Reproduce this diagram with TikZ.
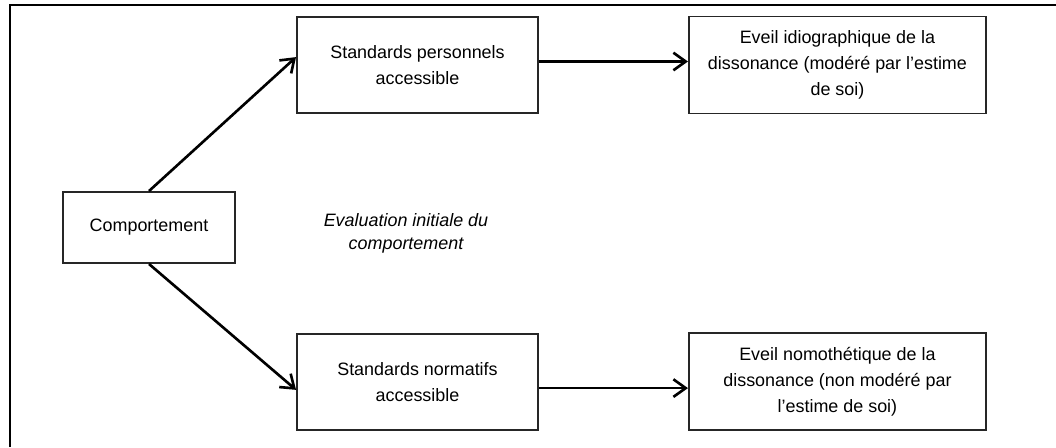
\documentclass[tikz,border=0pt]{standalone}
\usepackage{fontspec}
\setmainfont{Liberation Sans}
\usepackage{tikz}
\usetikzlibrary{arrows.meta, positioning}

\begin{document}
\begin{tikzpicture}[node distance=2.98cm, >={Straight Barb[length=7pt, width=10pt, line width=1.5pt]}]
    % Styles
    \tikzstyle{box} = [rectangle, draw=black!85, line width=1.1pt, align=center, font=\fontsize{10.2}{14.8}\selectfont, inner sep=0pt]
    \tikzstyle{smallbox} = [box, minimum width=4.82cm, minimum height=1.92cm]
    \tikzstyle{widebox} = [box, minimum width=5.94cm, minimum height=1.94cm]
    \tikzstyle{line} = [draw, line width=1.5pt, ->]

    % Frame
    \useasboundingbox (0,0) rectangle (21.12,-8.94);
    \draw[line width=0.9pt] (0.2,-8.94) -- (0.2,-0.1) -- (21.12,-0.1);

    % Nodes
    \node [box, minimum width=3.44cm, minimum height=1.42cm] (comp) at (2.98,-4.55) {Comportement};
    \node [smallbox] (perso) at (8.35,-1.30) {Standards personnels\\accessible};
    \node [widebox, right=of perso] (idio) {Eveil idiographique de la\\dissonance (modéré par l’estime\\de soi)};
    \node [smallbox, below=4.38cm of perso] (norm) {Standards normatifs\\accessible};
    \node [widebox, right=of norm] (nomo) {Eveil nomothétique de la\\dissonance (non modéré par\\l’estime de soi)};
    \node [align=center, font=\fontsize{10.2}{13}\selectfont\itshape] (eval) at (8.12,-4.67) {Evaluation initiale du\\comportement};

    % Paths
    \path [line] (comp.north) -- ([yshift=4.5pt]perso.west);
    \path [line] (comp.south) -- ([yshift=-4.5pt]norm.west);
    \path [line] ([yshift=2pt]perso.east) -- ([yshift=2pt]idio.west);
    \path [line] ([yshift=-3.5pt]norm.east) -- ([yshift=-3.5pt]nomo.west);

\end{tikzpicture}
\end{document}
